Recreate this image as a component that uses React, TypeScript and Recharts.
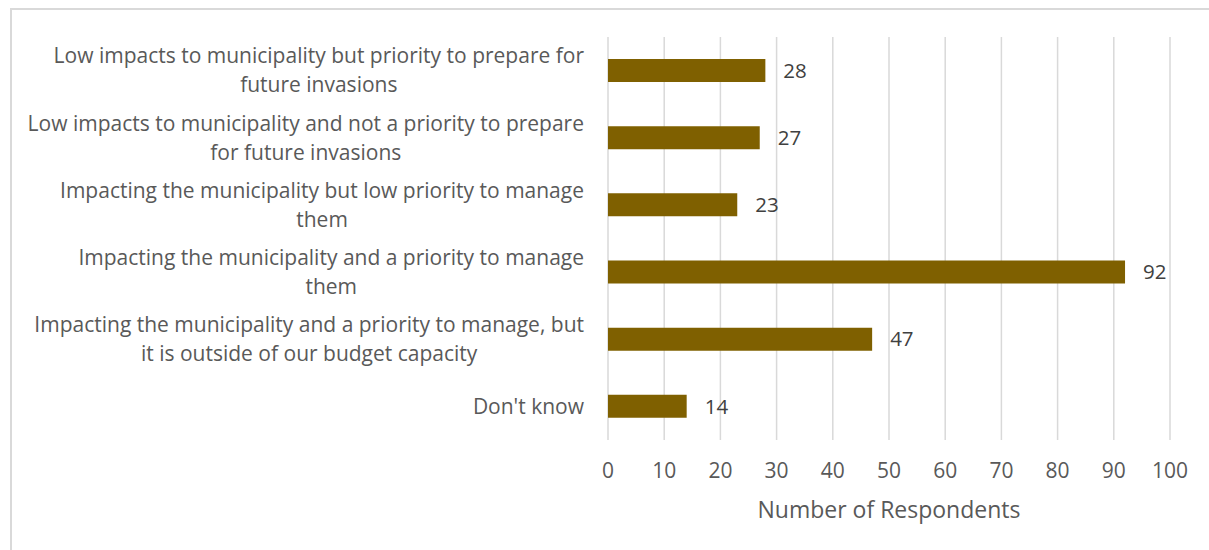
import { BarChart, Bar, XAxis, YAxis, CartesianGrid, LabelList } from "recharts";

const CATEGORIES = [
  "Low impacts to municipality but priority to prepare for\nfuture invasions",
  "Low impacts to municipality and not a priority to prepare\nfor future invasions",
  "Impacting the municipality but low priority to manage\nthem",
  "Impacting the municipality and a priority to manage\nthem",
  "Impacting the municipality and a priority to manage, but\nit is outside of our budget capacity",
  "Don't know",
];
const RESPONDENTS = [28, 27, 23, 92, 47, 14];
const X_TICKS = [0, 10, 20, 30, 40, 50, 60, 70, 80, 90, 100];

const data = CATEGORIES.map((category, i) => ({
  category,
  value: RESPONDENTS[i],
}));

const FONT = "'Open Sans', sans-serif";
const LABEL_SIZE = 21;

let ctx: CanvasRenderingContext2D | null = null;
function textWidth(s: string) {
  if (!ctx) ctx = document.createElement("canvas").getContext("2d");
  if (!ctx) return s.length * 10;
  ctx.font = `${LABEL_SIZE}px 'Open Sans'`;
  return ctx.measureText(s).width;
}

function CategoryTick(props: any) {
  const { x, y, payload } = props;
  const lines: string[] = String(payload.value).split("\n");
  const right = x - 16;
  const widest = Math.max(...lines.map(textWidth));
  const cx = right - widest / 2;
  const lh = 29;
  const y0 = y - ((lines.length - 1) * lh) / 2;
  return (
    <text
      textAnchor="middle"
      fill="#595959"
      fontSize={LABEL_SIZE}
      fontFamily={FONT}
    >
      {lines.map((l, i) => (
        <tspan key={i} x={cx} y={y0 + i * lh} dy="0.35em">
          {l}
        </tspan>
      ))}
    </text>
  );
}

export default function App() {
  return (
    <div
      style={{
        position: "absolute",
        left: 0,
        top: 0,
        width: 1209,
        height: 550,
        background: "#fff",
        overflow: "hidden",
      }}
    >
      <div
        style={{
          position: "absolute",
          left: 10,
          top: 8,
          width: 1220,
          height: 560,
          borderLeft: "2px solid #d9d9d9",
          borderTop: "2px solid #d9d9d9",
        }}
      />
      <div style={{ position: "absolute", left: 0, top: 0 }}>
        <BarChart
          width={1209}
          height={550}
          data={data}
          layout="vertical"
          margin={{ top: 37, right: 39, bottom: 20, left: 0 }}
          barSize={23}
        >
          <CartesianGrid
            horizontal={false}
            stroke="#d9d9d9"
            strokeWidth={1.5}
          />
          <XAxis
            type="number"
            domain={[0, 100]}
            ticks={X_TICKS}
            axisLine={false}
            tickLine={false}
            tick={{ fill: "#595959", fontSize: 21, fontFamily: FONT }}
            tickMargin={17}
            height={90}
            label={{
              value: "Number of Respondents",
              position: "insideBottom",
              offset: 12,
              fill: "#595959",
              fontSize: 23,
              fontFamily: FONT,
            }}
          />
          <YAxis
            type="category"
            dataKey="category"
            width={608}
            axisLine={false}
            tickLine={false}
            tick={<CategoryTick />}
            interval={0}
          />
          <Bar dataKey="value" fill="#7f6000" isAnimationActive={false}>
            <LabelList
              dataKey="value"
              position="right"
              offset={18}
              fill="#404040"
              fontSize={20.5}
              fontFamily={FONT}
            />
          </Bar>
        </BarChart>
      </div>
    </div>
  );
}
